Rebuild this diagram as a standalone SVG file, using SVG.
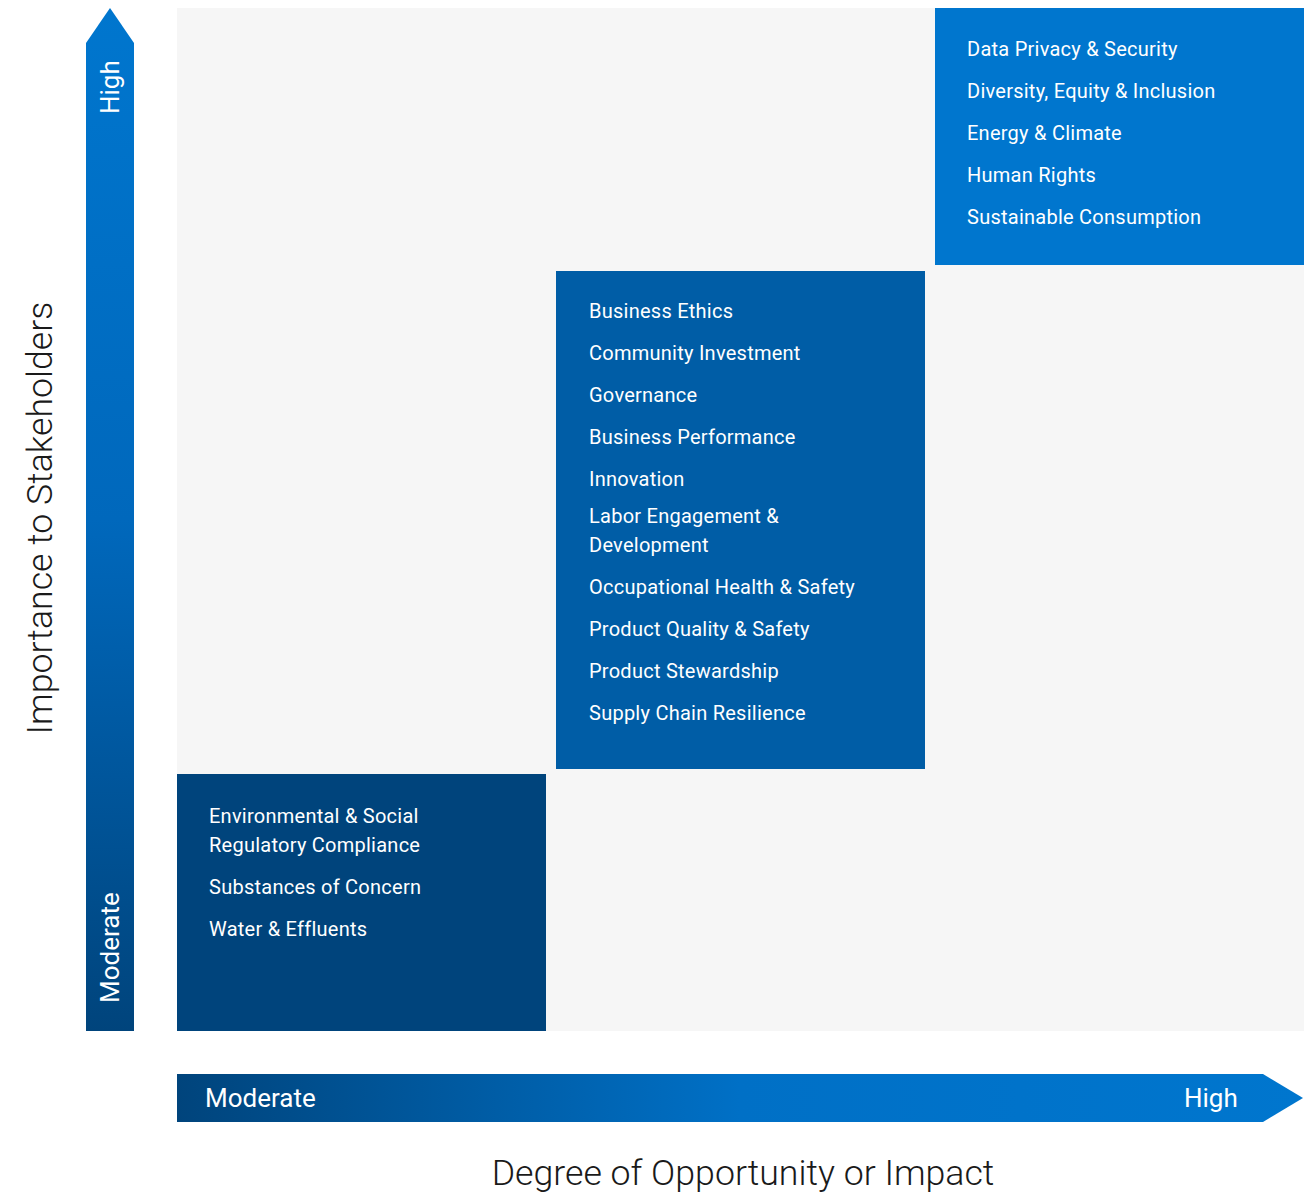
<svg xmlns="http://www.w3.org/2000/svg" width="1313" height="1193" viewBox="0 0 1313 1193">
<defs>
<linearGradient id="gv" x1="0" y1="1" x2="0" y2="0">
<stop offset="0" stop-color="#00447C"/>
<stop offset="0.5" stop-color="#0068BC"/>
<stop offset="1" stop-color="#0076CE"/>
</linearGradient>
<linearGradient id="gh" x1="0" y1="0" x2="1" y2="0">
<stop offset="0" stop-color="#00447C"/>
<stop offset="0.5" stop-color="#0070C6"/>
<stop offset="1" stop-color="#0076CE"/>
</linearGradient>
<style>
.t{font-family:Roboto,"Liberation Sans",sans-serif;font-size:20px;letter-spacing:0.25px;fill:#ffffff}
.ax{font-family:Roboto,"Liberation Sans",sans-serif;font-size:26px;fill:#ffffff}
.ti{font-family:Roboto,"Liberation Sans",sans-serif;font-size:35.7px;font-weight:300;fill:#1a1a1a}
</style>
</defs>
<rect width="1313" height="1193" fill="#ffffff"/>
<rect id="grid" x="177" y="8" width="1127" height="1023" fill="#f6f6f6"/>
<g id="axis-y">
<path d="M86 1031 L86 43 L110 8 L134 43 L134 1031 Z" fill="url(#gv)"/>
<text class="ax" transform="translate(119 114) rotate(-90)">High</text>
<text class="ax" transform="translate(119 1003) rotate(-90)">Moderate</text>
</g>
<g id="axis-x">
<path d="M177 1074 L1263 1074 L1303 1098 L1263 1122 L177 1122 Z" fill="url(#gh)"/>
<text class="ax" x="205" y="1107">Moderate</text>
<text class="ax" x="1184" y="1107">High</text>
</g>
<text id="title-y" class="ti" text-anchor="middle" transform="translate(52 518) rotate(-90)">Importance to Stakeholders</text>
<text id="title-x" class="ti" text-anchor="middle" x="743" y="1185">Degree of Opportunity or Impact</text>
<g id="box-high">
<rect x="935" y="8" width="369" height="257" fill="#0076CE"/>
<text class="t" x="967" y="56">Data Privacy &amp; Security</text>
<text class="t" x="967" y="98">Diversity, Equity &amp; Inclusion</text>
<text class="t" x="967" y="140">Energy &amp; Climate</text>
<text class="t" x="967" y="182">Human Rights</text>
<text class="t" x="967" y="224">Sustainable Consumption</text>
</g>
<g id="box-mid">
<rect x="556" y="271" width="369" height="498" fill="#005DA6"/>
<text class="t" x="589" y="318">Business Ethics</text>
<text class="t" x="589" y="360">Community Investment</text>
<text class="t" x="589" y="402">Governance</text>
<text class="t" x="589" y="444">Business Performance</text>
<text class="t" x="589" y="486">Innovation</text>
<text class="t" x="589" y="523">Labor Engagement &amp;</text>
<text class="t" x="589" y="552">Development</text>
<text class="t" x="589" y="594">Occupational Health &amp; Safety</text>
<text class="t" x="589" y="636">Product Quality &amp; Safety</text>
<text class="t" x="589" y="678">Product Stewardship</text>
<text class="t" x="589" y="720">Supply Chain Resilience</text>
</g>
<g id="box-low">
<rect x="177" y="774" width="369" height="257" fill="#00447C"/>
<text class="t" x="209" y="823">Environmental &amp; Social</text>
<text class="t" x="209" y="852">Regulatory Compliance</text>
<text class="t" x="209" y="894">Substances of Concern</text>
<text class="t" x="209" y="936">Water &amp; Effluents</text>
</g>
<g id="connectors"/>
</svg>
